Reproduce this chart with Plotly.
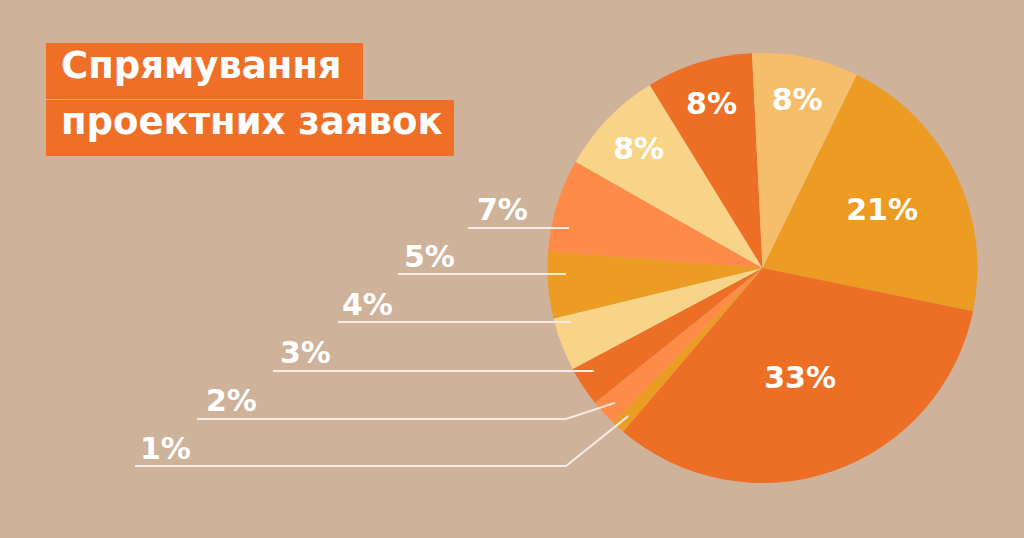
import math
import plotly.graph_objects as go

W, H = 1024, 538

# shares of project applications, clockwise starting from the 21% slice
shares = [21, 33, 1, 2, 3, 4, 5, 7, 8, 8, 8]
slice_colors = ["#EC9B23", "#ED6E25", "#EC9B23", "#FE8C48", "#ED6E25",
                "#F7D488", "#EC9B23", "#FE8C48", "#F7D488", "#ED6E25", "#F6BE6A"]
title_lines = ["Спрямування", "проектних заявок"]

BG = "#CEB299"
ORANGE = "#EE6F25"
LINE = "#F4ECE4"
FONT = "DejaVu Sans"

# pie placement in pixels
CX, CY, R = 762.5, 268, 215
ROT = 26

# callouts for the small slices (index in shares -> text x, text y, line x0, line y, line x1)
callouts = [
    (2, 140, 448, 135, 466, 566),
    (3, 206, 400, 197, 419, 566),
    (4, 280, 352, 273, 371, 594),
    (5, 342, 304, 338, 322, 571),
    (6, 404, 256, 398, 274, 566),
    (7, 477, 209, 468, 228, 569),
]


def px(x, y):
    return x / W, 1 - y / H


inside = [f"{v}%" if v >= 8 else "" for v in shares]

fig = go.Figure(go.Pie(
    values=shares,
    text=inside,
    textinfo="text",
    sort=False,
    direction="clockwise",
    rotation=ROT,
    marker=dict(colors=slice_colors, line=dict(width=0)),
    textposition="inside",
    insidetextorientation="horizontal",
    textfont=dict(family=FONT, size=30, color="white", weight="bold"),
    domain=dict(x=[(CX - R) / W, (CX + R) / W], y=[1 - (CY + R) / H, 1 - (CY - R) / H]),
    hoverinfo="skip",
    showlegend=False,
))

# angle of each slice middle (clockwise from 12 o'clock)
total = sum(shares)
mids = []
acc = ROT
for v in shares:
    mids.append(acc + v / total * 180)
    acc += v / total * 360

shapes = []
annotations = []
for idx, tx, ty, x0, ly, x1 in callouts:
    pts = [(x0, ly), (x1, ly)]
    if idx in (2, 3):
        a = math.radians(mids[idx])
        ex = CX + 0.93 * R * math.sin(a)
        ey = CY - 0.93 * R * math.cos(a)
        pts.append((ex, ey))
    for (ax, ay), (bx, by) in zip(pts[:-1], pts[1:]):
        p0, p1 = px(ax, ay), px(bx, by)
        shapes.append(dict(type="line", xref="paper", yref="paper",
                           x0=p0[0], y0=p0[1], x1=p1[0], y1=p1[1],
                           line=dict(color=LINE, width=2)))
    tpx = px(tx - 2, ty)
    annotations.append(dict(text=f"{shares[idx]}%", x=tpx[0], y=tpx[1],
                            xref="paper", yref="paper", xanchor="left", yanchor="middle",
                            showarrow=False,
                            font=dict(family=FONT, size=30, color="white", weight="bold")))

# title boxes
boxes = [(46, 43, 363, 99), (46, 100, 454, 156)]
text_y = [65, 121]
for (bx0, by0, bx1, by1), line_text, yy in zip(boxes, title_lines, text_y):
    a0, a1 = px(bx0, by0), px(bx1, by1)
    shapes.append(dict(type="rect", xref="paper", yref="paper",
                       x0=a0[0], y0=a0[1], x1=a1[0], y1=a1[1],
                       fillcolor=ORANGE, line=dict(width=0), layer="below"))
    tp = px(59, yy)
    annotations.append(dict(text=line_text, x=tp[0], y=tp[1], xref="paper", yref="paper",
                            xanchor="left", yanchor="middle", showarrow=False,
                            font=dict(family=FONT, size=37, color="white", weight="bold")))

fig.update_layout(
    width=W, height=H,
    margin=dict(l=0, r=0, t=0, b=0),
    paper_bgcolor=BG,
    plot_bgcolor=BG,
    shapes=shapes,
    annotations=annotations,
)

fig.write_html("out.html", config={"displayModeBar": False},
               post_script="document.body.style.margin='0';document.body.style.background='%s';" % BG)
